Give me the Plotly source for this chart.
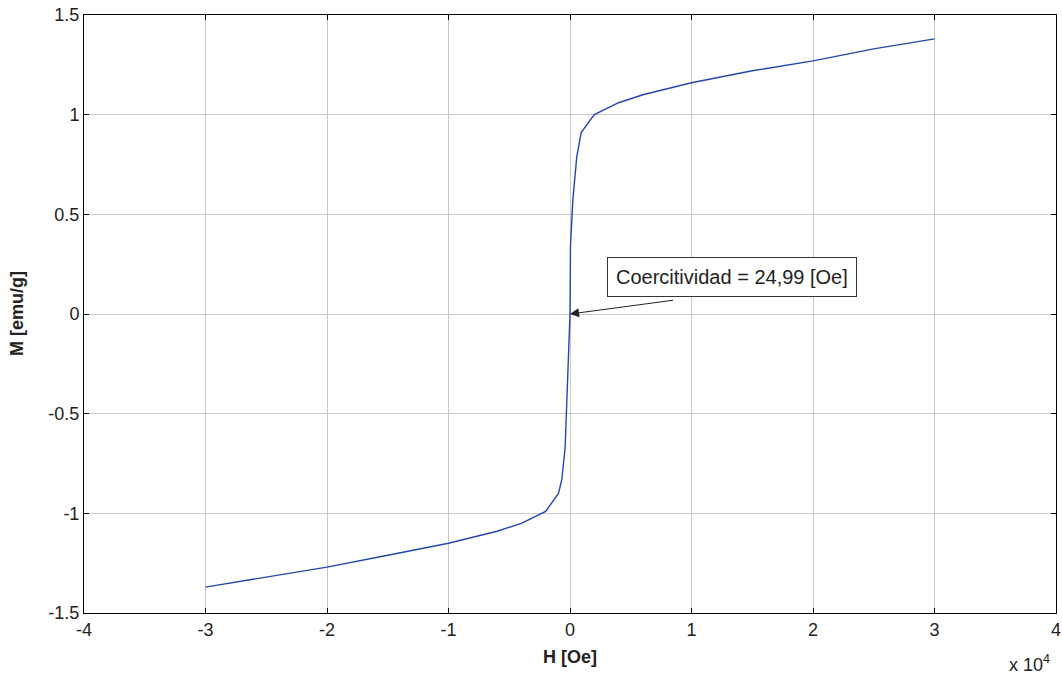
import plotly.graph_objects as go

H = [-30000, -25000, -20000, -15000, -10000, -8000, -6000, -4000, -2000, -950, -670, -400, -180,
     0, 40, 230, 560, 920, 2000, 4000, 6000, 8000, 10000, 15000, 20000, 25000, 30000]
M = [-1.37, -1.32, -1.27, -1.21, -1.15, -1.12, -1.09, -1.05, -0.99, -0.90, -0.83, -0.67, -0.33,
     0.0, 0.34, 0.57, 0.79, 0.91, 1.0, 1.06, 1.10, 1.13, 1.16, 1.22, 1.27, 1.33, 1.38]

x_ticks = [-40000, -30000, -20000, -10000, 0, 10000, 20000, 30000, 40000]
x_ticklabels = ["-4", "-3", "-2", "-1", "0", "1", "2", "3", "4"]
y_ticks = [-1.5, -1, -0.5, 0, 0.5, 1, 1.5]
y_ticklabels = ["-1.5", "-1", "-0.5", "0", "0.5", "1", "1.5"]

annot_text = "Coercitividad = 24,99 [Oe]"
x_title = "H [Oe]"
y_title = "M [emu/g]"

fig = go.Figure()
fig.add_trace(go.Scatter(x=H, y=M, mode="lines", line=dict(color="#2346b0", width=1.4),
                         showlegend=False))

fam = "Liberation Sans, Arial, sans-serif"
font = dict(family=fam, size=18, color="#222")

axis_common = dict(showgrid=True, gridcolor="#c8c8c8", gridwidth=1, zeroline=False,
                   showline=True, linecolor="black", linewidth=1, mirror="ticks",
                   ticks="inside", ticklen=5, tickcolor="black", tickfont=font,
                   automargin=False)

fig.update_xaxes(range=[-40000, 40000], tickvals=x_ticks, ticktext=x_ticklabels, **axis_common)
fig.update_yaxes(range=[-1.5, 1.5], tickvals=y_ticks, ticktext=y_ticklabels, **axis_common)

# axis titles
fig.add_annotation(x=0.5, y=0, xref="paper", yref="paper", xanchor="center", yanchor="middle",
                   yshift=-44, text="<b>" + x_title + "</b>", showarrow=False,
                   font=dict(family=fam, size=18, color="#222"))
fig.add_annotation(x=0, y=0.5, xref="paper", yref="paper", xanchor="center", yanchor="middle",
                   xshift=-67, text="<b>" + y_title + "</b>", showarrow=False, textangle=-90,
                   font=dict(family=fam, size=18, color="#222"))

# arrow
fig.add_annotation(x=0, y=0, ax=8600, ay=0.07, xref="x", yref="y", axref="x", ayref="y",
                   text="", showarrow=True, arrowhead=2, arrowsize=1.8, arrowwidth=1,
                   arrowcolor="#222")
# text box
fig.add_annotation(x=13300, y=0.185, xref="x", yref="y", text=annot_text, showarrow=False,
                   font=dict(family=fam, size=20, color="#222"), bordercolor="#333",
                   borderwidth=1, borderpad=8, bgcolor="white")
# exponent label
fig.add_annotation(x=1.0, y=0, xref="paper", yref="paper", xanchor="right", yanchor="bottom",
                   xshift=-4, yshift=-64, text="x 10<sup>4</sup>", showarrow=False,
                   font=dict(family=fam, size=18, color="#222"))

fig.update_layout(width=1062, height=678, margin=dict(l=84, r=6, t=15, b=65),
                  plot_bgcolor="white", paper_bgcolor="white", font=font)

fig.write_html("out.html", config={"displayModeBar": False},
               post_script="document.body.style.margin='0';document.body.style.overflow='hidden';")
